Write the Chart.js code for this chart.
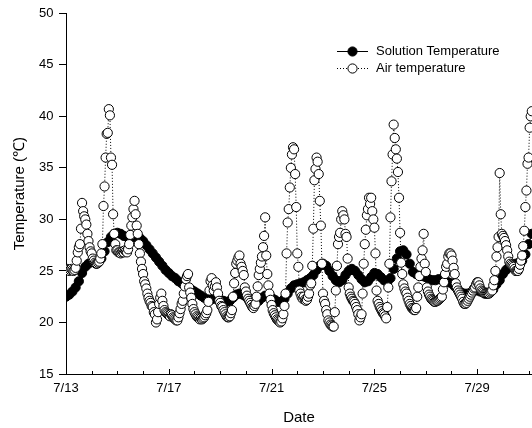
<!DOCTYPE html>
<html><head><meta charset="utf-8">
<script src="https://cdn.jsdelivr.net/npm/chart.js@4/dist/chart.umd.min.js"></script>
<style>html,body{margin:0;padding:0;background:#fff}#wrap{width:532px;height:428px;position:relative}</style>
</head><body><div id="wrap"><canvas id="c" width="532" height="428"></canvas></div>
<script>
// Axis ticks
const dateTickLabels = ['7/13', '7/17', '7/21', '7/25', '7/29'];
const dateTickDays = [0, 4, 8, 12, 16];
const yTickValues = [15, 20, 25, 30, 35, 40, 45, 50];
const xMaxDays = 18.133;

// Sampling interval (hours from 7/13 0:00)
const airStepHours = 1;
const solutionStepHours = 3;

// Air temperature (hourly)
const airTemperature = [
  25.1,25.2,25.1,25.0,25.1,25.2,25.1,25.0,25.1,25.3,26.0,26.8,27.3,27.6,29.1,31.6,30.8,30.3,30.0,29.5,28.6,27.9,27.3,26.9,
  26.7,26.2,26.0,25.8,25.7,25.7,25.8,25.9,26.2,26.7,27.6,31.3,33.2,36.0,38.3,38.4,40.7,40.1,36.0,35.3,30.5,28.6,27.6,27.0,
  27.0,26.8,26.8,26.7,26.8,26.9,26.8,27.0,26.9,26.8,27.1,27.6,28.5,29.4,30.2,31.0,31.8,30.5,29.4,28.6,27.6,26.7,25.9,25.2,
  24.7,24.0,23.7,23.3,22.8,22.4,22.1,21.9,21.6,21.5,21.0,20.8,20.0,20.3,21.0,21.8,22.4,22.8,22.1,21.6,21.2,21.0,20.9,20.8,
  20.7,20.6,20.8,20.7,20.5,20.4,20.3,20.2,20.2,20.5,20.9,21.3,21.8,22.1,22.8,23.5,24.2,24.5,24.7,23.4,22.9,22.4,21.8,21.3,
  21.0,20.8,20.6,20.5,20.4,20.3,20.4,20.3,20.4,20.5,20.7,20.9,21.2,22.0,23.1,24.0,24.3,23.6,23.1,23.5,23.9,23.4,22.8,22.1,
  21.9,21.6,21.5,21.2,21.0,20.8,20.6,20.5,20.5,20.6,20.9,21.2,22.5,23.8,24.8,25.7,26.0,26.3,26.5,25.7,25.4,25.0,24.6,23.4,
  23.0,22.6,22.3,22.1,21.9,21.7,21.5,21.4,21.6,21.8,22.5,23.5,24.6,25.2,25.8,26.4,27.3,28.4,30.2,26.5,24.7,23.6,22.8,22.2,
  21.7,21.2,20.9,20.7,20.5,20.3,20.2,20.1,20.0,20.1,20.4,20.8,21.6,22.8,26.7,29.7,31.0,33.1,35.0,36.3,37.0,36.8,34.4,31.2,
  26.7,25.4,23.1,22.8,22.5,22.3,22.5,22.2,22.1,22.2,22.5,22.8,23.6,23.8,25.5,29.1,33.8,34.9,36.0,35.6,34.4,31.8,29.4,25.7,
  22.8,22.1,21.8,21.2,20.8,20.2,20.0,19.8,19.7,19.6,19.6,21.0,23.1,25.5,27.6,28.3,28.7,30.0,30.8,30.4,30.0,28.6,28.3,26.2,
  23.4,22.8,22.5,22.3,22.1,22.0,21.8,21.5,21.2,20.8,20.2,20.5,20.8,22.8,25.7,27.6,29.0,30.4,31.0,32.1,31.5,32.1,30.8,30.0,
  29.2,26.7,23.1,22.1,21.8,21.5,21.3,21.1,20.9,20.8,20.6,20.4,21.5,23.4,25.7,30.2,33.7,36.3,39.2,37.9,36.8,35.9,34.6,32.1,
  28.7,25.8,24.7,23.7,23.3,23.0,22.8,22.4,22.1,21.8,21.6,21.4,21.3,21.2,21.2,21.4,22.5,23.4,24.5,25.4,26.2,27.0,28.6,25.7,
  24.9,23.4,23.0,22.7,22.5,22.3,22.2,22.1,22.0,22.0,22.1,22.1,22.2,22.3,22.4,22.5,23.2,23.9,24.7,25.4,25.7,26.4,26.7,26.7,
  26.5,26.0,25.3,24.7,23.8,23.4,23.1,22.9,22.7,22.5,22.3,22.0,21.8,21.8,21.9,22.1,22.3,22.5,22.7,22.9,23.1,23.3,23.4,23.7,
  23.9,23.9,23.6,23.3,23.1,23.0,22.9,22.8,22.8,22.8,22.8,22.8,22.9,23.0,23.1,23.6,24.1,25.0,26.4,27.3,28.3,34.5,30.5,28.6,
  28.4,28.2,27.9,27.5,27.0,26.4,25.9,25.7,25.6,25.5,25.4,25.2,25.0,25.0,25.0,25.2,25.6,26.0,26.5,27.4,28.9,31.2,32.8,35.4,36.0,38.9,40.0,40.5
];

// Solution temperature (every 3 hours)
const solutionTemperature = [
  22.5,22.7,23.0,23.4,24.0,24.8,25.4,25.7,
  25.9,26.0,26.0,26.2,26.9,27.8,28.3,28.6,
  28.7,28.6,28.4,28.3,28.2,28.3,28.3,28.2,
  27.9,27.5,27.1,26.7,26.3,25.9,25.5,25.1,
  24.8,24.5,24.3,24.0,23.8,23.6,23.4,23.2,
  23.0,22.8,22.6,22.4,22.3,22.2,22.3,22.3,
  22.2,22.1,22.0,22.1,22.4,22.7,22.8,22.7,
  22.5,22.3,22.1,22.0,22.1,22.4,22.6,22.6,
  22.4,22.2,22.0,22.0,22.3,22.8,23.3,23.6,
  23.7,23.8,23.9,24.1,24.3,24.6,25.1,25.5,
  25.7,25.5,25.0,24.5,24.1,23.9,24.1,24.6,
  25.0,25.2,25.0,24.6,24.2,23.9,24.0,24.4,
  24.8,24.7,24.4,24.1,23.9,24.3,25.2,26.2,
  26.9,27.0,26.6,25.7,24.9,24.7,24.6,24.5,
  24.4,24.2,24.1,24.1,24.2,24.2,24.1,23.9,
  23.8,23.5,23.2,22.9,22.8,22.8,22.9,23.1,
  23.1,23.0,22.9,22.9,22.9,23.2,23.7,24.1,
  24.7,25.1,25.4,25.6,25.7,25.8,26.0,26.6,27.6,28.6
];

const FONT = "'Liberation Sans', Arial, Helvetica, sans-serif";
Chart.defaults.color = '#000';
Chart.defaults.font.family = FONT;

const toPoints = (arr, stepH) => arr.map((v, i) => ({ x: i * stepH / 24, y: v }));

const dayTicksPlugin = {
  id: 'dayTicks',
  afterDraw(chart) {
    const xs = chart.scales.x, ctx = chart.ctx;
    const y0 = chart.chartArea.bottom;
    ctx.save();
    ctx.strokeStyle = '#000';
    ctx.lineWidth = 1;
    for (let d = Math.ceil(xs.min); d <= xs.max; d++) {
      const px = Math.round(xs.getPixelForValue(d)) + 0.5;
      const len = dateTickDays.includes(d) ? 5 : 3;
      ctx.beginPath();
      ctx.moveTo(px, y0);
      ctx.lineTo(px, y0 - len);
      ctx.stroke();
    }
    ctx.restore();
  }
};

const legendPlugin = {
  id: 'customLegend',
  afterDraw(chart) {
    const ctx = chart.ctx;
    const ds = chart.data.datasets;
    const rows = [ds[1], ds[0]];
    const x0 = 337, x1 = 368, cx = 352.5, tx = 376;
    const ys = [51.5, 68.5];
    ctx.save();
    rows.forEach((d, i) => {
      const y = ys[i];
      ctx.strokeStyle = d.borderColor;
      ctx.lineWidth = 1;
      ctx.setLineDash(d.borderDash || []);
      ctx.beginPath();
      ctx.moveTo(x0, y); ctx.lineTo(x1, y); ctx.stroke();
      ctx.setLineDash([]);
      ctx.beginPath();
      ctx.arc(cx, y, d.pointRadius, 0, Math.PI * 2);
      ctx.fillStyle = d.pointBackgroundColor;
      ctx.fill();
      ctx.strokeStyle = d.pointBorderColor;
      ctx.stroke();
      ctx.fillStyle = '#000';
      ctx.font = '13px ' + FONT;
      ctx.textBaseline = 'middle';
      ctx.textAlign = 'left';
      ctx.fillText(d.label, tx, y);
    });
    ctx.restore();
  }
};

new Chart(document.getElementById('c'), {
  type: 'line',
  data: {
    datasets: [
      {
        label: 'Air temperature',
        data: toPoints(airTemperature, airStepHours),
        borderColor: '#000',
        borderWidth: 1,
        borderDash: [1, 2],
        pointRadius: 4.6,
        pointBackgroundColor: '#fff',
        pointBorderColor: '#000',
        pointBorderWidth: 1,
        tension: 0
      },
      {
        label: 'Solution Temperature',
        data: toPoints(solutionTemperature, solutionStepHours),
        borderColor: '#000',
        borderWidth: 1,
        pointRadius: 4.6,
        pointBackgroundColor: '#000',
        pointBorderColor: '#000',
        pointBorderWidth: 1,
        tension: 0
      }
    ]
  },
  options: {
    responsive: false,
    animation: false,
    devicePixelRatio: 1,
    layout: { autoPadding: false, padding: { top: 12, right: 0, bottom: 0, left: 0 } },
    plugins: { legend: { display: false }, tooltip: { enabled: false } },
    scales: {
      x: {
        type: 'linear',
        min: 0,
        max: xMaxDays,
        afterBuildTicks: (s) => { s.ticks = dateTickDays.map(v => ({ value: v })); },
        afterFit: (s) => { s.height = 54; },
        grid: { display: false, drawTicks: false, tickLength: 0 },
        border: { display: true, color: '#000', width: 1 },
        ticks: {
          autoSkip: false, maxRotation: 0, padding: 7,
          font: { size: 13 },
          callback: (v) => { const i = dateTickDays.indexOf(v); return i >= 0 ? dateTickLabels[i] : ''; }
        },
        title: { display: true, text: 'Date', font: { size: 15 }, padding: { top: 0, bottom: 1 } }
      },
      y: {
        min: 15,
        max: 50,
        afterBuildTicks: (s) => { s.ticks = yTickValues.map(v => ({ value: v })); },
        afterFit: (s) => { s.width = 66; },
        grid: { drawOnChartArea: false, drawTicks: true, tickLength: 7, color: '#000' },
        border: { display: true, color: '#000', width: 1 },
        ticks: { padding: 5.5, font: { size: 13 } },
        title: { display: true, text: 'Temperature (℃)', font: { size: 15 }, padding: { top: 11, bottom: 0 } }
      }
    }
  },
  plugins: [dayTicksPlugin, legendPlugin]
});
</script>
</body></html>
